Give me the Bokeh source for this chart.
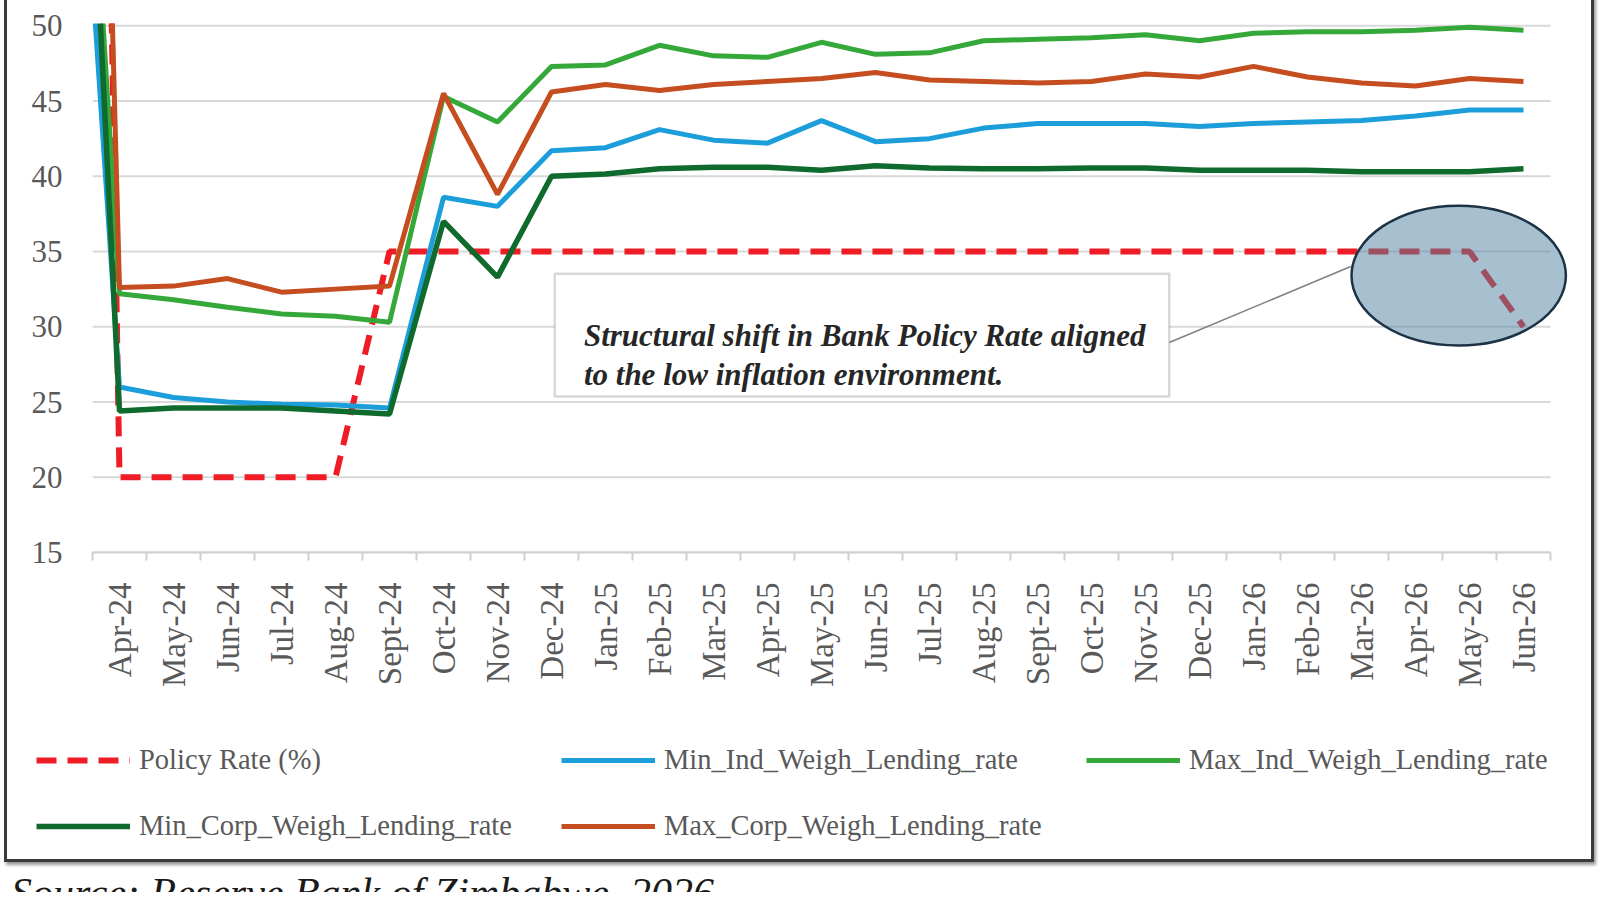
import math
from bokeh.plotting import figure
from bokeh.models import (Range1d, FixedTicker, Legend, LegendItem, BoxAnnotation,
                          Label, Div)
from bokeh.layouts import column
from bokeh.embed import file_html
from bokeh.resources import INLINE

# ---------------- data ----------------
# first entry (Mar-24) lies left of the visible range; only its descending segment shows
months = ["Mar-24", "Apr-24", "May-24", "Jun-24", "Jul-24", "Aug-24", "Sept-24", "Oct-24",
          "Nov-24", "Dec-24", "Jan-25", "Feb-25", "Mar-25", "Apr-25", "May-25", "Jun-25",
          "Jul-25", "Aug-25", "Sept-25", "Oct-25", "Nov-25", "Dec-25", "Jan-26", "Feb-26",
          "Mar-26", "Apr-26", "May-26", "Jun-26"]

policy_rate = [230, 20, 20, 20, 20, 20, 35, 35, 35, 35, 35, 35, 35, 35, 35, 35, 35, 35,
               35, 35, 35, 35, 35, 35, 35, 35, 35, 30]
min_ind = [80, 26.0, 25.3, 25.0, 24.85, 24.8, 24.6, 38.6, 38.0, 41.7, 41.9, 43.1, 42.4,
           42.2, 43.7, 42.3, 42.5, 43.2, 43.5, 43.5, 43.5, 43.3, 43.5, 43.6, 43.7, 44.0,
           44.4, 44.4]
max_ind = [91, 32.2, 31.8, 31.3, 30.85, 30.7, 30.3, 45.3, 43.6, 47.3, 47.4, 48.7, 48.0,
           47.9, 48.9, 48.1, 48.2, 49.0, 49.1, 49.2, 49.4, 49.0, 49.5, 49.6, 49.6, 49.7,
           49.9, 49.7]
min_corp = [97, 24.4, 24.6, 24.6, 24.6, 24.4, 24.2, 37.0, 33.3, 40.0, 40.15, 40.5, 40.6,
            40.6, 40.4, 40.7, 40.55, 40.5, 40.5, 40.55, 40.55, 40.4, 40.4, 40.4, 40.3,
            40.3, 40.3, 40.5]
max_corp = [166, 32.6, 32.7, 33.2, 32.3, 32.5, 32.7, 45.5, 38.8, 45.6, 46.1, 45.7, 46.1,
            46.3, 46.5, 46.9, 46.4, 46.3, 46.2, 46.3, 46.8, 46.6, 47.3, 46.6, 46.2, 46.0,
            46.5, 46.3]

y_ticks = [15, 20, 25, 30, 35, 40, 45, 50]

series_names = ["Policy Rate (%)", "Min_Ind_Weigh_Lending_rate", "Max_Ind_Weigh_Lending_rate",
                "Min_Corp_Weigh_Lending_rate", "Max_Corp_Weigh_Lending_rate"]

note_text = ["Structural shift in Bank Policy Rate aligned",
             "to the low inflation environment."]
source_text = "Source: Reserve Bank of Zimbabwe, 2026"

# ---------------- styles ----------------
FONT = "Liberation Serif"
GRAY = "#595959"
series_vals = [policy_rate, min_ind, max_ind, min_corp, max_corp]
series_style = [dict(line_color="#ee1c25", line_width=6, line_dash="20 11"),
                dict(line_color="#1c9edb", line_width=5),
                dict(line_color="#35a83a", line_width=5),
                dict(line_color="#0f6a2d", line_width=5.5),
                dict(line_color="#c54d20", line_width=5)]

# ---------------- main figure ----------------
x = [i - 1 for i in range(len(months))]
visible = months[1:]
n = len(visible)
x_lo, x_hi = -0.5, n - 0.5

p = figure(width=1584, height=700, output_backend="svg", toolbar_location=None,
           x_range=Range1d(x_lo, x_hi + 0.5), y_range=Range1d(15, 50.15),
           min_border_left=85, min_border_right=14, min_border_top=26,
           min_border_bottom=145)
p.frame_align = False
p.background_fill_color = "white"
p.border_fill_color = "white"
p.outline_line_color = None

xa = p.xaxis[0]
xa.ticker = FixedTicker(ticks=list(range(n)), minor_ticks=[i - 0.5 for i in range(n + 1)])
xa.bounds = (x_lo, x_hi)
xa.major_label_overrides = {i: lab for i, lab in enumerate(visible)}
xa.major_label_orientation = math.pi / 2
xa.major_tick_line_color = None
xa.major_tick_out = 0
xa.major_tick_in = 0
xa.minor_tick_line_color = "#d0d0d0"
xa.minor_tick_line_width = 2
xa.minor_tick_out = 8
xa.minor_tick_in = 0
xa.axis_line_color = "#d0d0d0"
xa.axis_line_width = 2
xa.major_label_standoff = 22
xa.major_label_text_font = FONT
xa.major_label_text_font_size = "33px"
xa.major_label_text_color = GRAY

ya = p.yaxis[0]
ya.ticker = FixedTicker(ticks=y_ticks)
ya.axis_line_color = None
ya.major_tick_line_color = None
ya.minor_tick_line_color = None
ya.major_label_standoff = 24
ya.major_label_text_font = FONT
ya.major_label_text_font_size = "31px"
ya.major_label_text_color = GRAY

p.xgrid.grid_line_color = None
p.ygrid.grid_line_color = None
# horizontal gridlines limited to the category area
p.segment(x0=[x_lo] * len(y_ticks), x1=[x_hi] * len(y_ticks), y0=y_ticks, y1=y_ticks,
          line_color="#d9d9d9", line_width=2)

for vals, st in zip(series_vals, series_style):
    p.line(x, vals, **st)

# annotation: callout box, text, leader line and ellipse
box_l, box_r, box_b, box_t = 8.06, 19.44, 25.36, 33.53
p.line([box_r, 22.8], [28.95, 34.0], line_color="#808080", line_width=1.5)
p.ellipse(x=[24.8], y=[33.4], width=3.97, height=9.3, fill_color="#4f81a0",
          fill_alpha=0.5, line_color="#1d3345", line_width=2.5)
p.add_layout(BoxAnnotation(left=box_l, right=box_r, bottom=box_b, top=box_t,
                           fill_color="white", fill_alpha=1.0, line_color="#7f7f7f",
                           line_width=2.5))
for txt, yy in zip(note_text, [29.45, 26.8]):
    p.add_layout(Label(x=8.6, y=yy, text=txt, text_font=FONT, text_font_style="bold italic",
                       text_font_size="31px", text_baseline="alphabetic",
                       text_color="#262626"))

# ---------------- legend strip (same series, drawn outside its visible range) ----------------
lg = figure(width=1584, height=162, output_backend="svg", toolbar_location=None,
            x_range=Range1d(1000, 1001), y_range=Range1d(1000, 1001),
            x_axis_type=None, y_axis_type=None, min_border=0)
lg.frame_align = False
lg.outline_line_color = None
lg.background_fill_color = "white"
lg.border_fill_color = "white"
lg.xgrid.visible = False
lg.ygrid.visible = False
lg_renderers = [lg.line(x, vals, **st) for vals, st in zip(series_vals, series_style)]

items = [LegendItem(label=nm, renderers=[r]) for nm, r in zip(series_names, lg_renderers)]
legend = Legend(items=items, orientation="horizontal", ncols=3,
                location=(29, 17), padding=0, margin=0, spacing=34,
                glyph_width=94, glyph_height=30, label_height=30, label_width=388,
                label_standoff=9, label_text_font=FONT, label_text_font_size="28.5px",
                label_text_color=GRAY, border_line_color=None,
                background_fill_alpha=0)
lg.add_layout(legend, "center")

framed = column(p, lg, styles={"border": "3px solid #3a3a3a",
                               "box-shadow": "2px 3px 3px #9a9a9a"},
                margin=(-6, 0, 0, 4))

src = Div(text=('<div style="font-family:\'Liberation Serif\';font-style:italic;'
                'font-size:42px;line-height:42px;padding-top:10px;padding-left:7px;'
                'color:#1a1a1a;white-space:nowrap">' + source_text + '</div>'),
          width=1584, height=30, styles={"overflow": "hidden"}, margin=(0, 0, 0, 4))

layout = column(framed, src)
open("out.html", "w").write(file_html(layout, INLINE))
